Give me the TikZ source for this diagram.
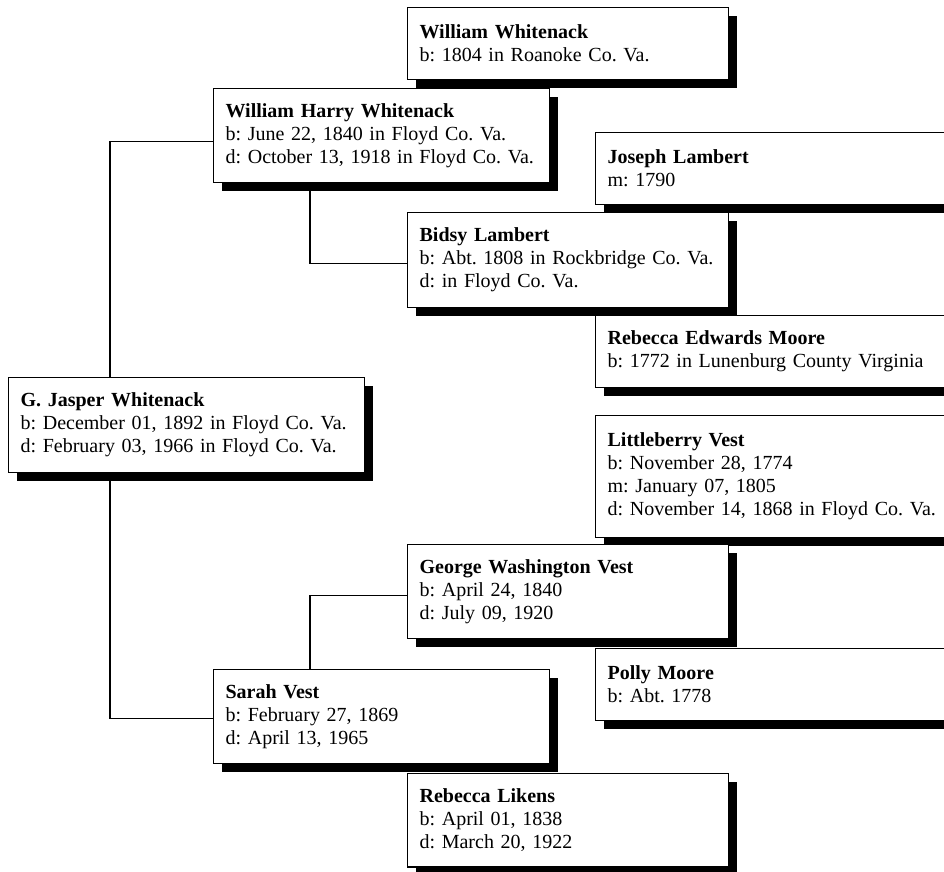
\documentclass[tikz,border=0pt]{standalone}
\usepackage{fontspec}
\setmainfont{Liberation Serif}
\usetikzlibrary{shadows,calc}
\newcommand\Ln[1]{\mbox{#1}}
\begin{document}
\begin{tikzpicture}[x=0.75pt,y=-0.75pt,
  person/.style={rectangle, draw=black, line width=0.9pt, fill=white, anchor=north west,
    align=left, inner xsep=9pt, inner ysep=0pt,
    font=\fontsize{15}{17.2}\selectfont\frenchspacing,
    drop shadow={shadow xshift=6pt, shadow yshift=-6.5pt, fill=black, opacity=1}},
  c1/.style={minimum width=267pt, text width=249pt},
  c2/.style={minimum width=252pt, text width=234pt},
  c3/.style={minimum width=240.75pt, text width=222.75pt},
  c4/.style={minimum width=285pt, text width=267pt},
  link/.style={draw=black, line width=0.8pt}]
\useasboundingbox (0,0) rectangle (944,871);
\clip (0,0) rectangle (944,871);

\node[person,c3,minimum height=54pt] (ww) at (407,7)
  {\Ln{\textbf{William Whitenack}}\\\Ln{b: 1804 in Roanoke Co. Va.}};
\node[person,c2,minimum height=70.5pt] (whw) at (213,88)
  {\Ln{\textbf{William Harry Whitenack}}\\\Ln{b: June 22, 1840 in Floyd Co. Va.}\\\Ln{d: October 13, 1918 in Floyd Co. Va.}};
\node[person,c4,minimum height=54pt] (jl) at (595,132)
  {\Ln{\textbf{Joseph Lambert}}\\\Ln{m: 1790}};
\node[person,c3,minimum height=71.25pt] (bl) at (407,212)
  {\Ln{\textbf{Bidsy Lambert}}\\\Ln{b: Abt. 1808 in Rockbridge Co. Va.}\\\Ln{d: in Floyd Co. Va.}};
\node[person,c4,minimum height=54pt] (rem) at (595,315)
  {\Ln{\textbf{Rebecca Edwards Moore}}\\\Ln{b: 1772 in Lunenburg County Virginia}};
\node[person,c1,minimum height=71.25pt] (gjw) at (8,377)
  {\Ln{\textbf{G. Jasper Whitenack}}\\\Ln{b: December 01, 1892 in Floyd Co. Va.}\\\Ln{d: February 03, 1966 in Floyd Co. Va.}};
\node[person,c4,minimum height=91.5pt] (lv) at (595,415)
  {\Ln{\textbf{Littleberry Vest}}\\\Ln{b: November 28, 1774}\\\Ln{m: January 07, 1805}\\\Ln{d: November 14, 1868 in Floyd Co. Va.}};
\node[person,c3,minimum height=70.5pt] (gwv) at (407,544)
  {\Ln{\textbf{George Washington Vest}}\\\Ln{b: April 24, 1840}\\\Ln{d: July 09, 1920}};
\node[person,c4,minimum height=54pt] (pm) at (595,648)
  {\Ln{\textbf{Polly Moore}}\\\Ln{b: Abt. 1778}};
\node[person,c2,minimum height=70.5pt] (sv) at (213,669)
  {\Ln{\textbf{Sarah Vest}}\\\Ln{b: February 27, 1869}\\\Ln{d: April 13, 1965}};
\node[person,c3,minimum height=70pt] (rl) at (407,773)
  {\Ln{\textbf{Rebecca Likens}}\\\Ln{b: April 01, 1838}\\\Ln{d: March 20, 1922}};

\draw[link] ($(gjw.north west)+(102,0)$) |- ([yshift=-4.5pt]whw.west);
\draw[link] ($(gjw.south west)+(102,0)$) |- ([yshift=-1.5pt]sv.west);
\draw[link] ($(whw.south west)+(97,0)$) |- ([yshift=-2.5pt]bl.west);
\draw[link] ($(sv.north west)+(97,0)$) |- ([yshift=-3pt]gwv.west);
\end{tikzpicture}
\end{document}
